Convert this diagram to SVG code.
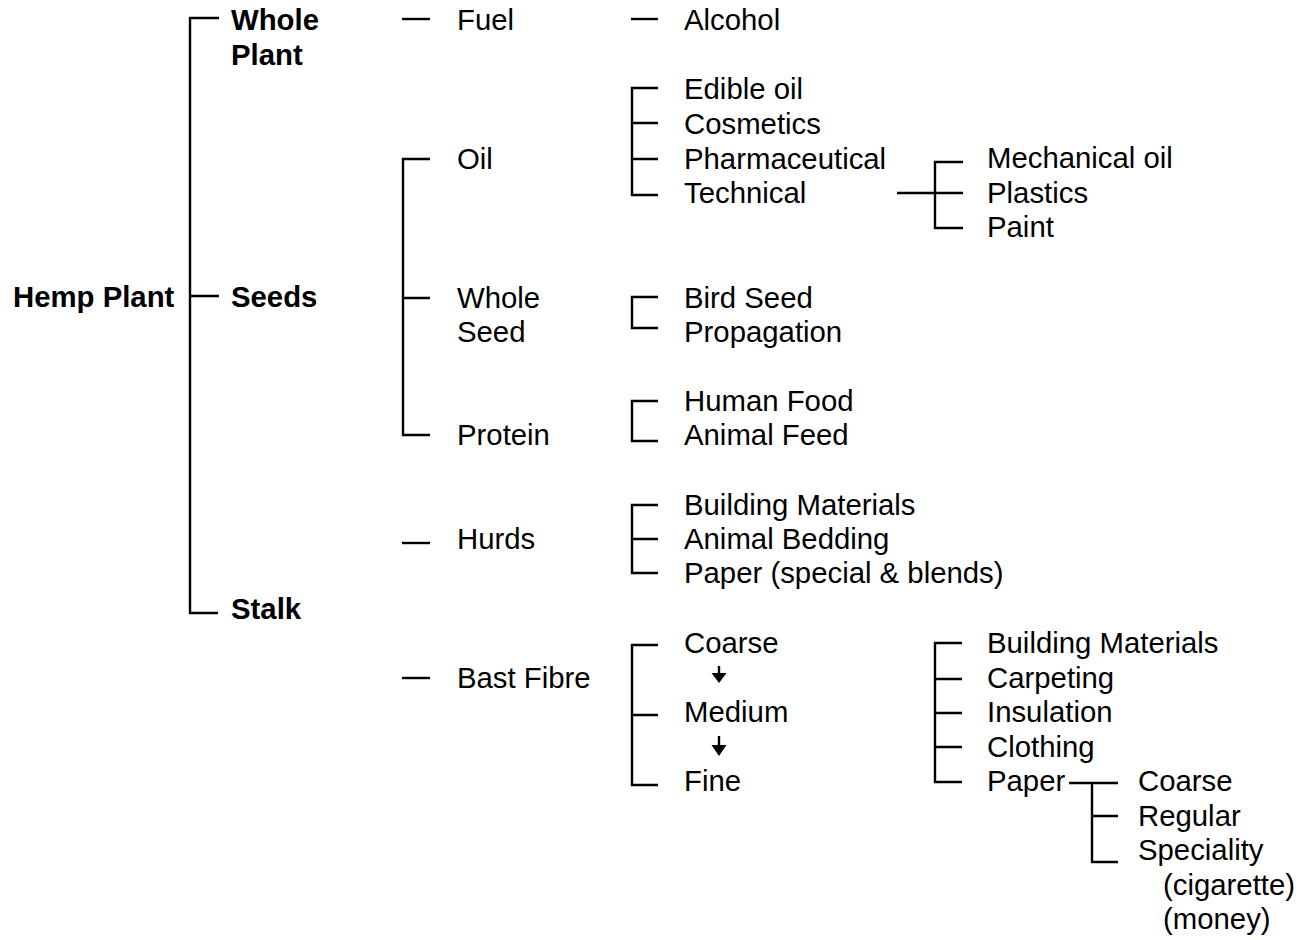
<svg xmlns="http://www.w3.org/2000/svg" width="1306" height="940" viewBox="0 0 1306 940">
<style>
text{font-family:"Liberation Sans",Arial,sans-serif;font-size:29.33px;fill:#000}
.b{font-weight:bold}
.c{fill:none;stroke:#000;stroke-width:2.4;stroke-linecap:butt}
</style>
<rect width="1306" height="940" fill="#fff"/>
<g id="connectors" class="c">
<path d="M219,18 H190 V613 H218 M190,296 H219"/>
<path d="M402,19 H430"/>
<path d="M430,159 H403 V435 H430 M403,298 H430"/>
<path d="M402,543 H430"/>
<path d="M402,678 H430"/>
<path d="M631,19 H658"/>
<path d="M658,88 H632 V195 H658 M632,123 H658 M632,159 H658"/>
<path d="M897,193 H963 M963,162 H935 V228 H963"/>
<path d="M658,297 H632 V328 H658"/>
<path d="M658,401 H632 V441 H658"/>
<path d="M658,505 H632 V573 H658 M632,539 H658"/>
<path d="M658,645 H632 V785 H658 M632,715 H658"/>
<path d="M962,643 H935 V782 H962 M935,679 H962 M935,713 H962 M935,747 H962"/>
<path d="M1069,783 H1118 M1092,783 V862 H1118 M1092,816 H1118"/>
<path d="M719,666 V674 M719,736 V746"/>
<polygon points="711.5,673 726.5,673 719,683" fill="#000" stroke="none"/>
<polygon points="711.5,745 726.5,745 719,756" fill="#000" stroke="none"/>
</g>
<g id="hemp"><text class="b" x="13" y="307">Hemp Plant</text></g>
<g id="whole-plant"><text class="b" x="231" y="30">Whole</text><text class="b" x="231" y="65">Plant</text></g>
<g id="seeds"><text class="b" x="231" y="307">Seeds</text></g>
<g id="stalk"><text class="b" x="231" y="619">Stalk</text></g>
<g id="fuel"><text x="457" y="30">Fuel</text></g>
<g id="alcohol"><text x="684" y="30">Alcohol</text></g>
<g id="oil"><text x="457" y="169">Oil</text></g>
<g id="oil-uses"><text x="684" y="99">Edible oil</text><text x="684" y="134">Cosmetics</text><text x="684" y="169">Pharmaceutical</text><text x="684" y="203">Technical</text></g>
<g id="technical-uses"><text x="987" y="168">Mechanical oil</text><text x="987" y="203">Plastics</text><text x="987" y="237">Paint</text></g>
<g id="whole-seed"><text x="457" y="308">Whole</text><text x="457" y="342">Seed</text></g>
<g id="whole-seed-uses"><text x="684" y="308">Bird Seed</text><text x="684" y="342">Propagation</text></g>
<g id="protein"><text x="457" y="445">Protein</text></g>
<g id="protein-uses"><text x="684" y="411">Human Food</text><text x="684" y="445">Animal Feed</text></g>
<g id="hurds"><text x="457" y="549">Hurds</text></g>
<g id="hurds-uses"><text x="684" y="515">Building Materials</text><text x="684" y="549">Animal Bedding</text><text x="684" y="583">Paper (special &amp; blends)</text></g>
<g id="bast"><text x="457" y="688">Bast Fibre</text></g>
<g id="grades"><text x="684" y="653">Coarse</text><text x="684" y="722">Medium</text><text x="684" y="791">Fine</text></g>
<g id="bast-uses"><text x="987" y="653">Building Materials</text><text x="987" y="688">Carpeting</text><text x="987" y="722">Insulation</text><text x="987" y="757">Clothing</text><text x="987" y="791">Paper</text></g>
<g id="paper-uses"><text x="1138" y="791">Coarse</text><text x="1138" y="826">Regular</text><text x="1138" y="860">Speciality</text><text x="1163" y="895">(cigarette)</text><text x="1163" y="929">(money)</text></g>
</svg>
